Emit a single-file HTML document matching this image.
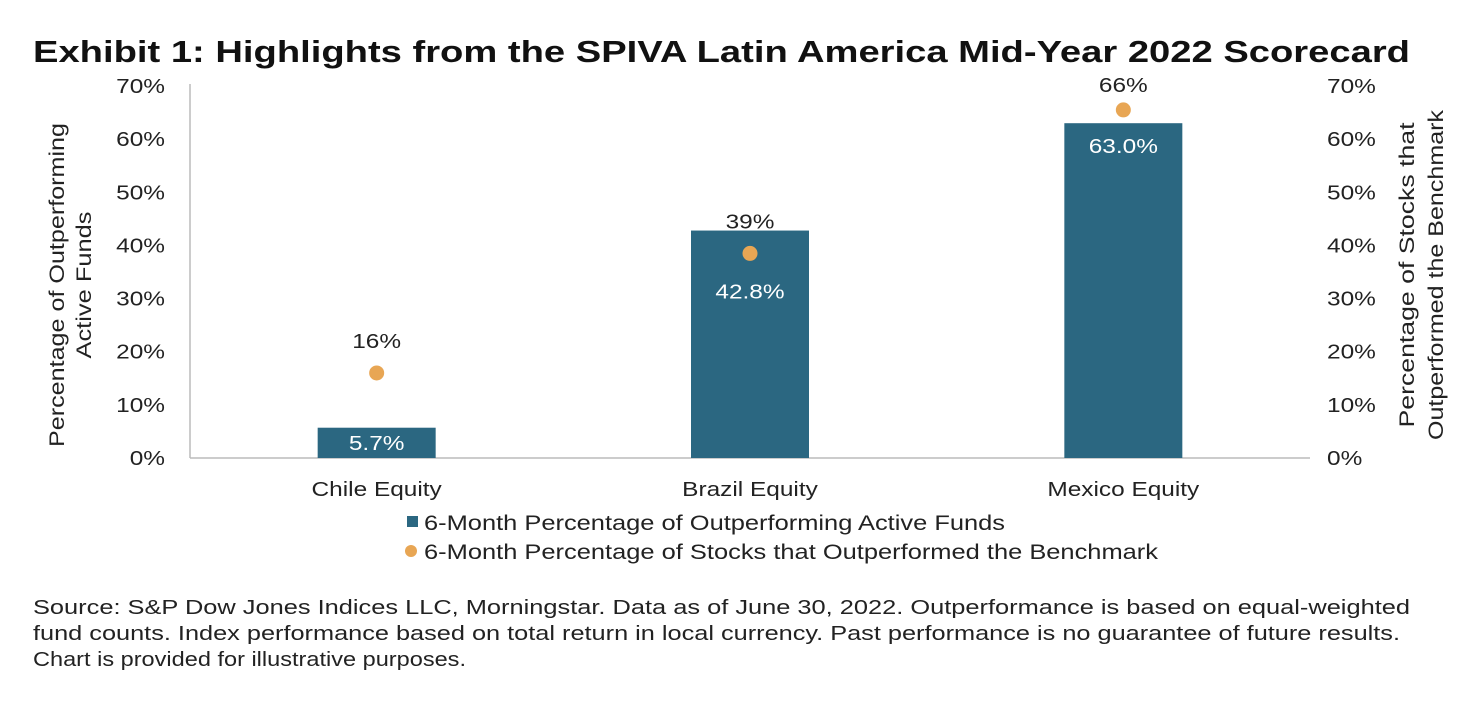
<!DOCTYPE html>
<html><head><meta charset="utf-8"><style>
body{margin:0;background:#fff;width:1480px;height:700px;overflow:hidden;font-family:"Liberation Sans",Arial,sans-serif;}
svg text{font-family:"Liberation Sans",Arial,sans-serif;}
</style></head><body>
<svg id="chart" width="1480" height="700" viewBox="0 0 1480 700" xmlns="http://www.w3.org/2000/svg">
<text x="33" y="62" font-size="31" font-weight="bold" fill="#111" textLength="1377" lengthAdjust="spacingAndGlyphs">Exhibit 1: Highlights from the SPIVA Latin America Mid-Year 2022 Scorecard</text>
<g id="g"></g>
<text transform="translate(64,285) rotate(-90)" text-anchor="middle" font-size="21" fill="#222"><tspan x="0" dy="0" textLength="324" lengthAdjust="spacingAndGlyphs">Percentage of Outperforming</tspan><tspan x="0" dy="27" textLength="147" lengthAdjust="spacingAndGlyphs">Active Funds</tspan></text>
<text transform="translate(1414,275) rotate(-90)" text-anchor="middle" font-size="21" fill="#222"><tspan x="0" dy="0" textLength="305" lengthAdjust="spacingAndGlyphs">Percentage of Stocks that</tspan><tspan x="0" dy="29" textLength="330" lengthAdjust="spacingAndGlyphs">Outperformed the Benchmark</tspan></text>
<rect x="407" y="516" width="11" height="11" fill="#2b6781"/>
<text x="424" y="530" font-size="21" fill="#222" textLength="581" lengthAdjust="spacingAndGlyphs">6-Month Percentage of Outperforming Active Funds</text>
<circle cx="411" cy="551" r="6" fill="#e8a654"/>
<text x="424" y="559" font-size="21" fill="#222" textLength="734" lengthAdjust="spacingAndGlyphs">6-Month Percentage of Stocks that Outperformed the Benchmark</text>
<text font-size="20" fill="#222"><tspan x="33" y="614" textLength="1377" lengthAdjust="spacingAndGlyphs">Source: S&amp;P Dow Jones Indices LLC, Morningstar. Data as of June 30, 2022. Outperformance is based on equal-weighted</tspan><tspan x="33" y="640" textLength="1367" lengthAdjust="spacingAndGlyphs">fund counts. Index performance based on total return in local currency. Past performance is no guarantee of future results.</tspan><tspan x="33" y="666" textLength="433" lengthAdjust="spacingAndGlyphs">Chart is provided for illustrative purposes.</tspan></text>
</svg>
<script>
const categories=["Chile Equity","Brazil Equity","Mexico Equity"];
const fundValues=[5.7,42.8,63.0];
const stockValues=[16,38.5,65.5];
const stockLabels=["16%","39%","66%"];
const tickValues=[0,10,20,30,40,50,60,70];
const NS="http://www.w3.org/2000/svg";
const g=document.getElementById('g');
const x0=190,x1=1310,y0=458,y70=86;
const yS=v=>y0-(v/70)*(y0-y70);
const xC=i=>x0+(x1-x0)*(i+0.5)/categories.length;
function mk(t,a,txt){const e=document.createElementNS(NS,t);for(const k in a)e.setAttribute(k,a[k]);if(txt!==undefined)e.textContent=txt;g.appendChild(e);return e;}
function stretch(e){const w=e.getComputedTextLength();e.setAttribute('textLength',w*1.22);e.setAttribute('lengthAdjust','spacingAndGlyphs');}
tickValues.forEach(v=>{
 let e=mk('text',{x:165,y:yS(v)+7,'text-anchor':'end','font-size':20,fill:'#222'},v+'%');
 
 
 stretch(e);
 e=mk('text',{x:1327,y:yS(v)+7,'font-size':20,fill:'#222'},v+'%');
 
 
 stretch(e);
});
let ax=mk('line',{x1:x0,y1:y70-2,x2:x0,y2:y0,stroke:'#bbb','stroke-width':1.5});


ax=mk('line',{x1:x0,y1:y0,x2:x1,y2:y0,stroke:'#bbb','stroke-width':1.5});


const bw=118;
categories.forEach((c,i)=>{
 const cx=xC(i);
 const top=yS(fundValues[i]);
 let b=mk('rect',{x:cx-bw/2,y:top,width:bw,height:y0-top,fill:'#2b6781'});
 
 
 let ly=top+Math.min(30,(y0-top)/2+7);
 const dy=yS(stockValues[i]);
 if(Math.abs(ly-7-dy)<25) ly=dy+45;
 let t=mk('text',{x:cx,y:ly,'text-anchor':'middle','font-size':20,fill:'#fff'},fundValues[i].toFixed(1)+'%');
 
 
 stretch(t);
 let d=mk('circle',{cx:cx,cy:dy,r:7.5,fill:'#e8a654'});
 
 
 t=mk('text',{x:cx,y:Math.max(92,dy-25),'text-anchor':'middle','font-size':20,fill:'#222'},stockLabels[i]);
 
 
 stretch(t);
 t=mk('text',{x:cx,y:496,'text-anchor':'middle','font-size':20,fill:'#222'},c);
 
 
 stretch(t);
});
</script>
</body></html>
